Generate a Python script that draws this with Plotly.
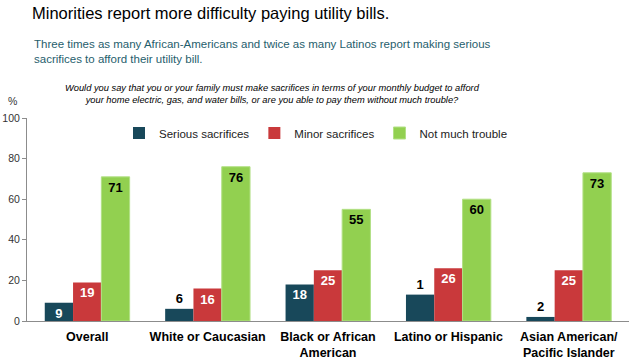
import plotly.graph_objects as go

categories = ["Overall", "White or Caucasian", "Black or African<br>American",
              "Latino or Hispanic", "Asian American/<br>Pacific Islander"]
serious = [9, 6, 18, 13, 2]
serious_labels = ["9", "6", "18", "1", "2"]
minor = [19, 16, 25, 26, 25]
not_much = [71, 76, 55, 60, 73]
y_ticks = [0, 20, 40, 60, 80, 100]

FONT = "Liberation Sans, Arial, sans-serif"
TEAL = "#18485A"
RED = "#C9393B"
GREEN = "#92D050"

W, H = 634, 362
PL, PR, PT, PB = 27, 629, 118, 321

fig = go.Figure()
fig.add_trace(go.Bar(
    name="Serious sacrifices", x=categories, y=serious, text=serious_labels,
    marker=dict(color=TEAL, line=dict(width=0)),
    textposition=["inside", "outside", "inside", "outside", "outside"],
    insidetextanchor="end",
    insidetextfont=dict(color="white", size=13, family=FONT, weight="bold"),
    outsidetextfont=dict(color="black", size=13, family=FONT, weight="bold"),
    constraintext="none", textangle=0, cliponaxis=False,
))
fig.add_trace(go.Bar(
    name="Minor sacrifices", x=categories, y=minor, text=[str(v) for v in minor],
    marker=dict(color=RED, line=dict(width=0)),
    textposition="inside", insidetextanchor="end",
    insidetextfont=dict(color="white", size=13, family=FONT, weight="bold"),
    constraintext="none", textangle=0,
))
fig.add_trace(go.Bar(
    name="Not much trouble", x=categories, y=not_much, text=[str(v) for v in not_much],
    marker=dict(color=GREEN, line=dict(width=1, color="#B2E085")),
    textposition="inside", insidetextanchor="end",
    insidetextfont=dict(color="black", size=13, family=FONT, weight="bold"),
    constraintext="none", textangle=0,
))

fig.update_layout(
    width=W, height=H,
    margin=dict(l=PL, r=W - PR, t=PT, b=H - PB, autoexpand=False),
    paper_bgcolor="white", plot_bgcolor="white",
    barmode="group", bargap=0.295, bargroupgap=0,
    font=dict(family=FONT, color="black"),
    showlegend=True,
    legend=dict(orientation="h", x=(316 - 27) / 602, xanchor="center",
                y=(321 - 133) / 203, yanchor="middle",
                font=dict(size=11.5, family=FONT, color="#222"),
                bgcolor="rgba(0,0,0,0)", itemwidth=30, tracegroupgap=0),
    xaxis=dict(showline=True, linecolor="#8c8c8c", linewidth=1, ticks="",
               tickfont=dict(size=12.5, family=FONT, weight="bold", color="black"),
               ticklabelstandoff=4,
               showgrid=False, zeroline=False),
    yaxis=dict(range=[0, 100], tickvals=y_ticks, showline=True, linecolor="#8c8c8c",
               linewidth=1, ticks="outside", ticklen=4, tickcolor="#8c8c8c",
               tickfont=dict(size=10.5, family=FONT, color="#333"),
               showgrid=False, zeroline=False),
)

# (text, screen x, screen y-middle, size, color, anchor)
anns = [
    ("Minorities report more difficulty paying utility bills.", 30, 13, 16.5, "black", "left"),
    ("Three times as many African-Americans and twice as many Latinos report making serious<br>sacrifices to afford their utility bill.",
     32, 51, 11.5, "#1F5E6D", "left"),
    ("<i>Would you say that you or your family must make sacrifices in terms of your monthly budget to afford<br>your home electric, gas, and water bills, or are you able to pay them without much trouble?</i>",
     272, 94, 9.3, "black", "center"),
    ("%", 12, 101, 10.5, "#333", "center"),
]
for text, sx, sy, size, color, anchor in anns:
    fig.add_annotation(
        text=text, xref="paper", yref="paper",
        x=(sx - PL) / (PR - PL), y=(PB - sy) / (PB - PT),
        xanchor=anchor, yanchor="middle", align=anchor,
        showarrow=False, font=dict(size=size, color=color, family=FONT),
    )

fig.write_html("out.html", config={"displayModeBar": False},
               post_script="document.body.style.margin='0';")
